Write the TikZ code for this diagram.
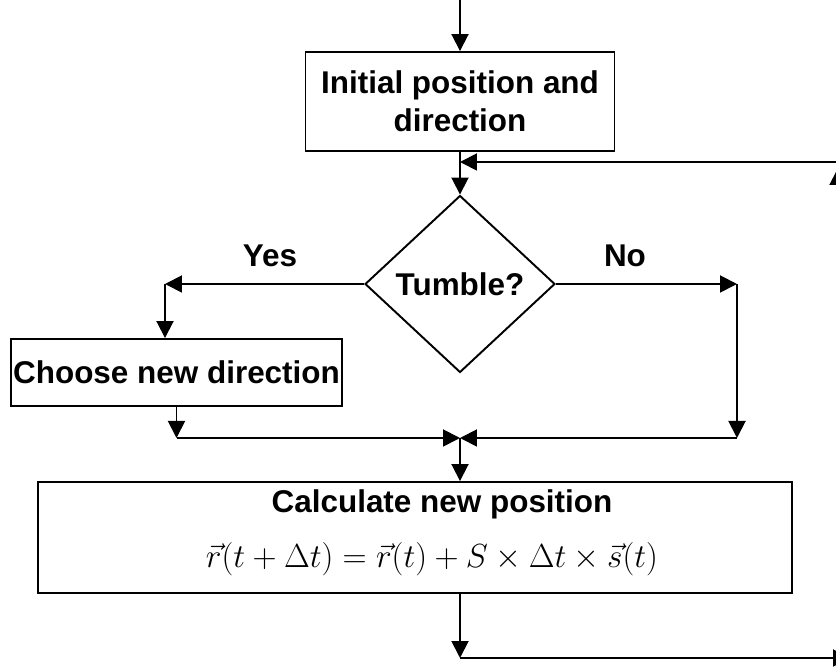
\RequirePackage{fix-cm}
\documentclass[tikz,border=0pt]{standalone}
\usepackage{fontspec}
\setmainfont{Liberation Sans}
\usetikzlibrary{arrows.meta,positioning,shapes.geometric}

\begin{document}
\begin{tikzpicture}[x=0.02cm, y=-0.02cm, >={Triangle[length=3.4mm,width=3.4mm]},
   line width=1.1pt, font=\fontsize{17.9}{21.6}\selectfont\bfseries,
   blk/.style={rectangle, draw, align=center, inner sep=0pt},
   dec/.style={diamond, draw, aspect=1.07, inner sep=0pt,
      minimum width=3.8cm, minimum height=3.54cm}]
\clip (0,0) rectangle (836,668);
\coordinate (in) at (460,-20);
\node[blk, minimum width=6.18cm, minimum height=1.98cm] (init) at (460,101.5)
   {Initial position and\\direction};
\coordinate (loop) at (460,162);
\coordinate (ret) at (860,162);
\coordinate (up) at (838,168);
\coordinate (uplow) at (838,300);
\node[dec] (tumble) at (460,284) {Tumble?};
\coordinate (yes) at (165,284);
\coordinate (no) at (737,284);
\node[blk, minimum width=6.62cm, minimum height=1.34cm] (choose) at (176.5,372.5)
   {Choose new direction};
\coordinate (cb) at (176.5,438);
\coordinate (nb) at (737,438);
\coordinate (merge) at (460,438);
\node[blk, minimum width=15.08cm, minimum height=2.22cm] (calc) at (415,537.5) {};
\node[anchor=base] (calctitle) at (442,513) {Calculate new position};
\node[anchor=base, font=\fontsize{19}{22}\selectfont] (calcform) at (432,568)
   {$\vec{r}(t+\Delta t)=\vec{r}(t)+S\times\Delta t\times\vec{s}(t)$};
\coordinate (out) at (460,658);
\coordinate (next) at (850,658);
\node (lyes) at (270,256) {Yes};
\node (lno) at (625,256) {No};
% main line
\draw[->] (in) -- (init.north);
\draw (init.south) -- (loop);
\draw[->] (ret) -- (loop);
\draw[->] (uplow) -- (up);
\draw[->] (loop) -- (tumble.north);
% yes branch
\draw[->] (tumble.west) -- (yes);
\draw[->] (yes) -- (yes |- choose.north);
\draw[->] (choose.south) -- (cb);
\draw[->] (cb) -- (merge);
% no branch
\draw[->] (tumble.east) -- (no);
\draw[->] (no) -- (nb);
\draw[->] (nb) -- (merge);
\draw[->] (merge) -- (calc.north -| merge);
\draw[->] (calc.south -| out) -- (out);
\draw[->] (out) -- (next);
\end{tikzpicture}
\end{document}
